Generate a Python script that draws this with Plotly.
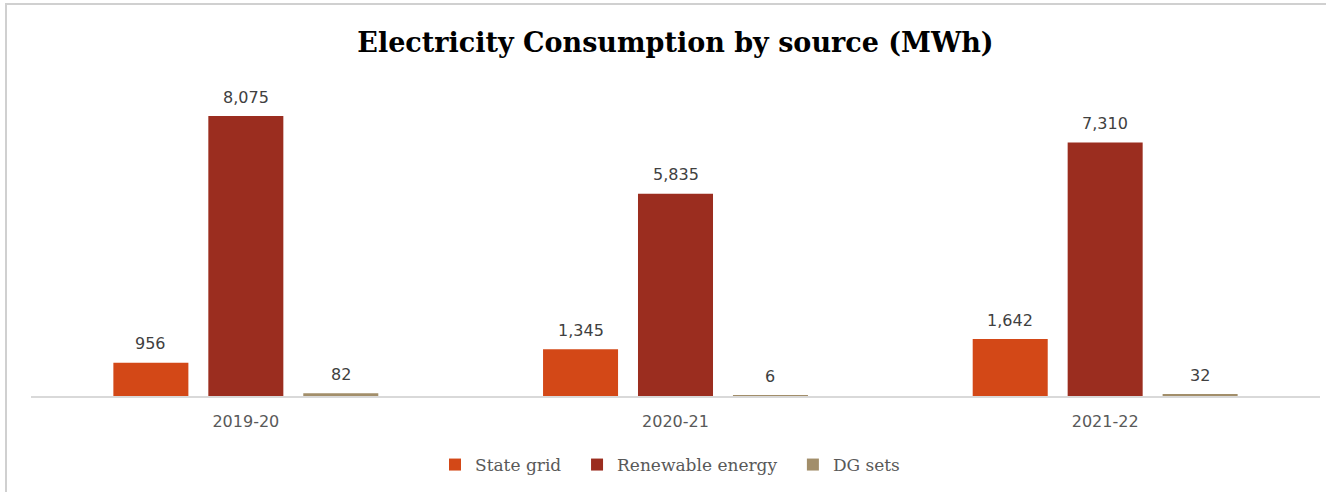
import plotly.graph_objects as go

years = ["2019-20", "2020-21", "2021-22"]
state_grid = [956, 1345, 1642]
renewable = [8075, 5835, 7310]
dg_sets = [82, 6, 32]

series = [
    ("State grid", state_grid, "#D34817"),
    ("Renewable energy", renewable, "#9B2D1F"),
    ("DG sets", dg_sets, "#A28E6A"),
]

W, H = 1326, 492
ML, MR, MT, MB = 31, 6, 84, 96
plot_w = W - ML - MR
plot_h = H - MT - MB
bargap = 0.337
slot = plot_w / len(years) * (1 - bargap) / len(series)

fig = go.Figure()
for i, (name, vals, color) in enumerate(series):
    fig.add_trace(go.Bar(
        name=name + "\u00a0\u00a0", x=years, y=vals,
        marker=dict(color=color, line=dict(width=0)),
    ))
    # value labels above each bar
    for yr, v in zip(years, vals):
        fig.add_annotation(
            x=yr, y=v, text=f"{v:,}", showarrow=False,
            xshift=(i - 1) * slot, yshift=19, yanchor="middle",
            font=dict(family="DejaVu Sans", size=16, color="#404040"),
        )

# light frame round the chart
fx0 = (6 - ML) / plot_w
fx1 = (W + 10 - ML) / plot_w
fy1 = (MT + plot_h - 4) / plot_h
fy0 = (MT + plot_h - (H + 10)) / plot_h
fig.add_shape(type="rect", xref="paper", yref="paper",
              x0=fx0, x1=fx1, y0=fy0, y1=fy1,
              line=dict(color="#D0D0D0", width=2), layer="below")

fig.update_layout(
    width=W, height=H,
    margin=dict(l=ML, r=MR, t=MT, b=MB),
    paper_bgcolor="white", plot_bgcolor="white",
    barmode="group", bargap=bargap, bargroupgap=0.21,
    title=dict(
        text="<b>Electricity Consumption by source (MWh)</b>",
        x=0.5, xanchor="center", xref="paper",
        y=1 - 43 / H, yanchor="middle", yref="container",
        font=dict(family="DejaVu Serif", size=27, color="black"),
    ),
    xaxis=dict(
        showline=True, linecolor="#D9D9D9", linewidth=1.5,
        ticks="", showgrid=False, ticklabelstandoff=10,
        tickfont=dict(family="DejaVu Sans", size=16, color="#595959"),
    ),
    yaxis=dict(range=[0, 9000], visible=False, showgrid=False, zeroline=False),
    legend=dict(
        orientation="h", x=0.5, xanchor="center",
        y=-(465 - MT - plot_h) / plot_h, yanchor="middle",
        font=dict(family="DejaVu Serif", size=17, color="#595959"),
        itemwidth=30, tracegroupgap=0,
    ),
    showlegend=True,
)

fig.write_html("out.html")
